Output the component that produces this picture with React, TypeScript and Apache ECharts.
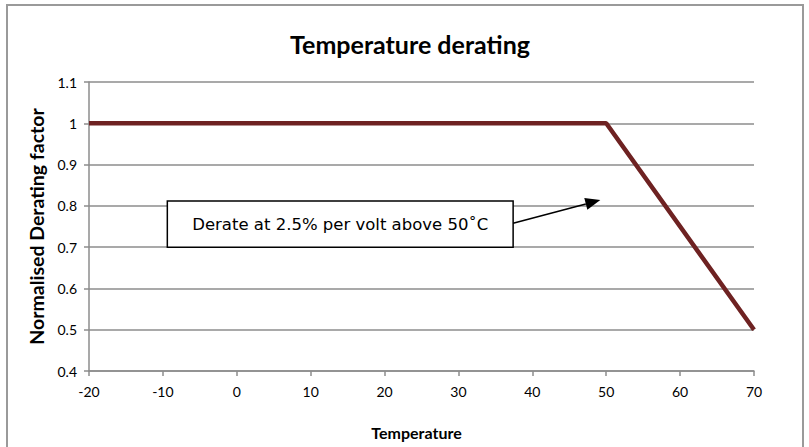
import React, { useEffect, useRef } from "react";
import * as echarts from "echarts";

const temperatures = [-20, 50, 70];
const deratingFactor = [1, 1, 0.5];
const xTicks = { min: -20, max: 70, interval: 10 };
const yTicks = { min: 0.4, max: 1.1, interval: 0.1 };
const annotationText = "Derate at 2.5% per volt above 50˚C";
// annotation box corners and arrow in data coordinates
const boxCorners = [[-9.4, 0.812], [37.4, 0.7]];
const arrowFrom = [37.4, 0.758];
const arrowTo = [49.2, 0.814];

export default function App() {
  const ref = useRef<HTMLDivElement>(null);
  useEffect(() => {
    document.body.style.margin = "0";
    const chart = echarts.init(ref.current!, null, { renderer: "svg" });
    const gray = "#8c8c8c";
    chart.setOption({
      animation: false,
      backgroundColor: "#fff",
      title: {
        text: "Temperature derating",
        left: 405,
        textAlign: "center",
        top: 26,
        textStyle: { fontFamily: "Lato", fontWeight: "bold", fontSize: 25, color: "#000" },
      },
      grid: { left: 89, right: 55, top: 82, bottom: 76 },
      xAxis: {
        type: "value",
        min: xTicks.min,
        max: xTicks.max,
        interval: xTicks.interval,
        name: "Temperature",
        nameLocation: "middle",
        nameGap: 53,
        nameTextStyle: { fontFamily: "Lato", fontWeight: "bold", fontSize: 16, color: "#000", padding: [0, 10, 0, 0] },
        axisLine: { show: true, onZero: false, lineStyle: { color: gray, width: 1.5 } },
        axisTick: { show: true, inside: false, length: 5, lineStyle: { color: gray, width: 1.5 } },
        axisLabel: { margin: 13, fontFamily: "Lato", fontSize: 14, color: "#000" },
        splitLine: { show: false },
      },
      yAxis: {
        type: "value",
        min: yTicks.min,
        max: yTicks.max,
        interval: yTicks.interval,
        name: "Normalised Derating factor",
        nameLocation: "middle",
        nameGap: 42,
        nameTextStyle: { fontFamily: "Lato", fontWeight: "bold", fontSize: 19.5, color: "#000" },
        axisLine: { show: true, onZero: false, lineStyle: { color: gray, width: 1.5 } },
        axisTick: { show: true, inside: false, length: 5, lineStyle: { color: gray, width: 1.5 } },
        axisLabel: { margin: 12, fontFamily: "Lato", fontSize: 14, color: "#000" },
        splitLine: { show: true, lineStyle: { color: gray, width: 1.5 } },
      },
      series: [
        {
          type: "line",
          data: temperatures.map((t, i) => [t, deratingFactor[i]]),
          symbol: "none",
          lineStyle: { color: "#6e2222", width: 4.5 },
          z: 5,
        },
      ],
    });
    const p1 = chart.convertToPixel({ gridIndex: 0 }, boxCorners[0]);
    const p2 = chart.convertToPixel({ gridIndex: 0 }, boxCorners[1]);
    const a1 = chart.convertToPixel({ gridIndex: 0 }, arrowFrom);
    const a2 = chart.convertToPixel({ gridIndex: 0 }, arrowTo);
    const ang = Math.atan2(a2[1] - a1[1], a2[0] - a1[0]);
    const hl = 15, hw = 6;
    const bx = a2[0] - hl * Math.cos(ang), by = a2[1] - hl * Math.sin(ang);
    const nx = -Math.sin(ang), ny = Math.cos(ang);
    chart.setOption({
      graphic: [
        {
          type: "rect",
          shape: { x: 7, y: 5, width: 796, height: 460 },
          style: { fill: "none", stroke: "#9a9a9a", lineWidth: 2 },
          z: 1,
        },
        {
          type: "rect",
          shape: { x: p1[0], y: p1[1], width: p2[0] - p1[0], height: p2[1] - p1[1] },
          style: { fill: "#fff", stroke: "#000", lineWidth: 1.5 },
          z: 10,
        },
        {
          type: "text",
          x: (p1[0] + p2[0]) / 2,
          y: (p1[1] + p2[1]) / 2,
          style: {
            text: annotationText,
            fontFamily: "DejaVu Sans",
            fontSize: 16.5,
            fill: "#000",
            align: "center",
            verticalAlign: "middle",
          },
          z: 11,
        },
        {
          type: "line",
          shape: { x1: a1[0], y1: a1[1], x2: bx, y2: by },
          style: { stroke: "#000", lineWidth: 1.5 },
          z: 10,
        },
        {
          type: "polygon",
          shape: {
            points: [
              [a2[0], a2[1]],
              [bx + nx * hw, by + ny * hw],
              [bx - nx * hw, by - ny * hw],
            ],
          },
          style: { fill: "#000" },
          z: 10,
        },
      ],
    });
    return () => chart.dispose();
  }, []);
  return <div ref={ref} style={{ width: 809, height: 447 }} />;
}
